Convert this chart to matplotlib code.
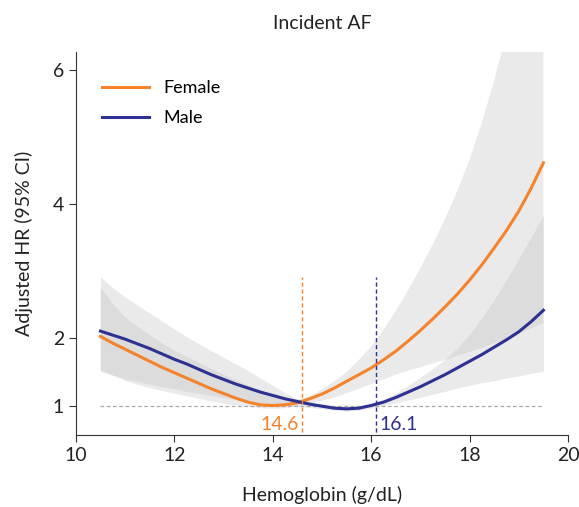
import numpy as np
import matplotlib
matplotlib.use("Agg")
import matplotlib.pyplot as plt

plt.rcParams['font.family'] = ['Lato', 'DejaVu Sans']

# hemoglobin grid (g/dL)
hb = [10.5, 10.75, 11.0, 11.25, 11.5, 11.75, 12.0, 12.25, 12.5, 12.75,
      13.0, 13.25, 13.5, 13.75, 14.0, 14.25, 14.5, 14.75, 15.0, 15.25,
      15.5, 15.75, 16.0, 16.25, 16.5, 16.75, 17.0, 17.25, 17.5, 17.75,
      18.0, 18.25, 18.5, 18.75, 19.0, 19.25, 19.5]

# female HR and 95% CI
female_hr = [2.03, 1.93, 1.84, 1.75, 1.66, 1.57, 1.49, 1.41, 1.33, 1.25,
             1.18, 1.11, 1.05, 1.01, 1.00, 1.01, 1.04, 1.10, 1.17, 1.26,
             1.36, 1.46, 1.56, 1.68, 1.81, 1.96, 2.12, 2.29, 2.47, 2.66,
             2.87, 3.10, 3.35, 3.61, 3.90, 4.24, 4.62]
female_lo = [1.53, 1.45, 1.37, 1.31, 1.26, 1.22, 1.18, 1.14, 1.10, 1.06,
             1.03, 1.00, 0.98, 0.96, 0.95, 0.96, 0.99, 1.03, 1.07, 1.12,
             1.18, 1.25, 1.32, 1.39, 1.46, 1.52, 1.57, 1.63, 1.68, 1.74,
             1.80, 1.86, 1.93, 2.00, 2.07, 2.15, 2.23]
female_hi = [2.77, 2.52, 2.32, 2.18, 2.05, 1.93, 1.82, 1.73, 1.64, 1.55,
             1.46, 1.38, 1.30, 1.23, 1.16, 1.11, 1.08, 1.14, 1.24, 1.36,
             1.50, 1.68, 1.88, 2.13, 2.41, 2.72, 3.05, 3.40, 3.78, 4.20,
             4.67, 5.22, 5.85, 6.55, 7.40, 8.40, 9.50]

# male HR and 95% CI
male_hr = [2.11, 2.05, 1.99, 1.92, 1.85, 1.77, 1.69, 1.62, 1.54, 1.46,
           1.39, 1.32, 1.26, 1.20, 1.15, 1.10, 1.06, 1.02, 0.99, 0.96,
           0.95, 0.96, 1.00, 1.05, 1.12, 1.20, 1.28, 1.37, 1.46, 1.56,
           1.66, 1.76, 1.87, 1.98, 2.10, 2.25, 2.42]
male_lo = [1.51, 1.45, 1.40, 1.36, 1.32, 1.28, 1.25, 1.21, 1.18, 1.15,
           1.12, 1.09, 1.06, 1.04, 1.02, 1.00, 0.99, 0.97, 0.95, 0.93,
           0.92, 0.93, 0.96, 1.00, 1.04, 1.08, 1.12, 1.17, 1.21, 1.26,
           1.30, 1.34, 1.37, 1.41, 1.44, 1.48, 1.51]
male_hi = [2.92, 2.76, 2.62, 2.50, 2.38, 2.26, 2.14, 2.03, 1.92, 1.82,
           1.72, 1.62, 1.52, 1.41, 1.30, 1.19, 1.10, 1.06, 1.03, 1.00,
           0.99, 1.00, 1.04, 1.10, 1.19, 1.30, 1.42, 1.55, 1.69, 1.86,
           2.06, 2.31, 2.58, 2.88, 3.19, 3.51, 3.84]

female_ref = 14.6
male_ref = 16.1

orange = '#F5832B'
navy = '#2E3192'

fig = plt.figure(figsize=(5.79, 5.07), dpi=100)
ax = fig.add_axes([0.131, 0.142, 0.850, 0.755])

ax.fill_between(hb, male_lo, male_hi, color='#bcbcbc', alpha=0.3, lw=0)
ax.fill_between(hb, female_lo, female_hi, color='#bcbcbc', alpha=0.3, lw=0)

ax.plot([hb[0], hb[-1]], [1, 1], color='#aaaaaa', lw=0.9, ls=(0, (3, 2)))

ax.plot(hb, female_hr, color=orange, lw=2.2, label='Female')
ax.plot(hb, male_hr, color=navy, lw=2.2, label='Male')

ax.plot([female_ref, female_ref], [0.5, 2.92], color=orange, lw=1, ls=(0, (3, 2)))
ax.plot([male_ref, male_ref], [0.5, 2.92], color=navy, lw=1, ls=(0, (3, 2)))
ax.text(female_ref - 0.06, 0.72, '14.6', color=orange, fontsize=14,
        ha='right', va='center')
ax.text(male_ref + 0.06, 0.72, '16.1', color=navy, fontsize=14,
        ha='left', va='center')

ax.set_xlim(10, 20)
ax.set_ylim(0.56, 6.27)
ax.set_xticks([10, 12, 14, 16, 18, 20])
ax.set_yticks([1, 2, 4, 6])
ax.tick_params(labelsize=14, length=5, color='#333333', labelcolor='#222222')
for s in ['top', 'right']:
    ax.spines[s].set_visible(False)
for s in ['left', 'bottom']:
    ax.spines[s].set_color('#333333')

ax.set_xlabel('Hemoglobin (g/dL)', fontsize=14, color='#222222', labelpad=16)
ax.set_ylabel('Adjusted HR (95% CI)', fontsize=14, color='#222222', labelpad=14)
ax.set_title('Incident AF', fontsize=14, color='#222222', pad=17)

ax.legend(loc='upper left', bbox_to_anchor=(0.02, 0.97), frameon=False,
          fontsize=13, handlelength=2.6, labelspacing=0.8)

fig.savefig('out.png', dpi=100)
